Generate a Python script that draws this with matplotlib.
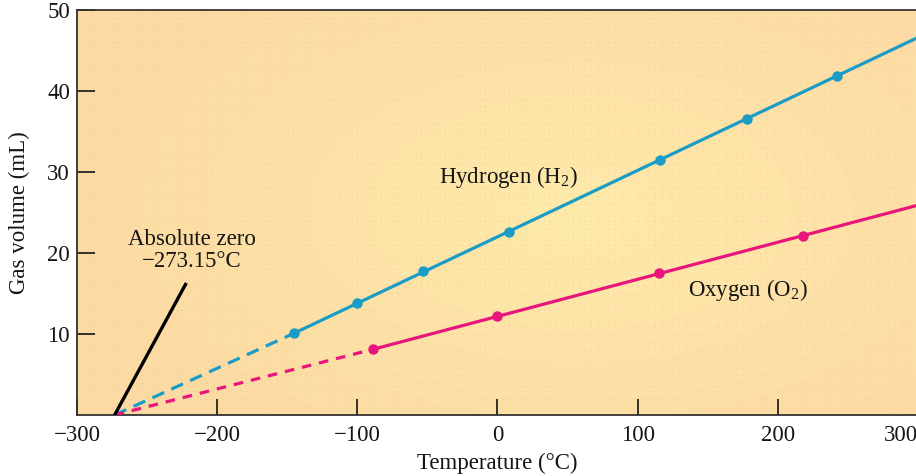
import numpy as np
import matplotlib
matplotlib.use("Agg")
import matplotlib.pyplot as plt
from matplotlib.colors import LinearSegmentedColormap

# ---- data ----
abs_zero = -273.15
h2_temp = [-145, -100, -53, 8, 116, 178, 242]
h2_vol = [10.1, 13.8, 17.8, 22.6, 31.5, 36.6, 41.9]
o2_temp = [-89, 0, 115, 218]
o2_vol = [8.1, 12.2, 17.5, 22.1]
h2_end_vol = 46.6   # solid line value at x = 300
o2_end_vol = 25.9
x_ticks = [-300, -200, -100, 0, 100, 200, 300]
x_tick_labels = ["\u2212300", "\u2212200", "\u2212100", "0", "100", "200", "300"]
y_ticks = [10, 20, 30, 40, 50]
pointer_start = (-273.15, 0)
pointer_end = (-222, 16.3)

plt.rcParams['font.family'] = ['Liberation Serif', 'DejaVu Serif']
plt.rcParams['mathtext.fontset'] = 'custom'
plt.rcParams['mathtext.rm'] = 'Liberation Serif'
plt.rcParams['mathtext.it'] = 'Liberation Serif:italic'
plt.rcParams['mathtext.bf'] = 'Liberation Serif:bold'

FS = 16.5
TXT = "#151515"

fig = plt.figure(figsize=(9.16, 4.76), dpi=100)
ax = fig.add_axes([77/916, 61/476, 1 - 77/916 + 0.002, 405/476])
ax.set_xlim(-300, 300)
ax.set_ylim(0, 50)

# background gradient
nx, ny = 200, 100
xx, yy = np.meshgrid(np.linspace(0, 1, nx), np.linspace(0, 1, ny))
val = np.clip(1 - np.sqrt(((xx - 0.6) / 0.65) ** 2 + ((yy - 0.5) / 0.75) ** 2), 0, 1)
cmap = LinearSegmentedColormap.from_list("bg", ["#FCDAA3", "#FDE2A7", "#FEEBAA"])
ax.imshow(val, extent=[-300, 300, 0, 50], origin="lower", aspect="auto",
          cmap=cmap, vmin=0, vmax=1, zorder=0, interpolation="bilinear")

# faint dotted grid
for gx in np.arange(-300, 301, 100 / 17.5):
    ax.axvline(gx, color="#F4B09A", lw=0.7, ls=(0, (1, 5)), alpha=0.5, zorder=0.5)
for gy in np.arange(0, 50.1, 1):
    ax.axhline(gy, color="#F4B09A", lw=0.7, ls=(0, (1, 5)), alpha=0.5, zorder=0.5)

blue = "#1A9CC6"
pink = "#E8157C"

# hydrogen
ax.plot([abs_zero, h2_temp[0]], [0, h2_vol[0]], color=blue, lw=2.3, ls=(0, (4, 2.5)), zorder=3)
ax.plot([h2_temp[0], 300], [h2_vol[0], h2_end_vol], color=blue, lw=2.3, zorder=3)
ax.plot(h2_temp, h2_vol, ls="none", marker="o", ms=6.5, color=blue, zorder=4)

# oxygen
ax.plot([abs_zero, o2_temp[0]], [0, o2_vol[0]], color=pink, lw=2.3, ls=(0, (3, 2.5)), zorder=3)
ax.plot([o2_temp[0], 300], [o2_vol[0], o2_end_vol], color=pink, lw=2.3, zorder=3)
ax.plot(o2_temp, o2_vol, ls="none", marker="o", ms=6.5, color=pink, zorder=4)

# absolute zero pointer
ax.plot([pointer_start[0], pointer_end[0]], [pointer_start[1], pointer_end[1]],
        color="black", lw=2.4, zorder=5, solid_capstyle="butt")
ax.text(-218, 20.3, "Absolute zero\n\u2212273.15\u00b0C", ha="center", va="center",
        fontsize=FS, linespacing=1.05, color=TXT)

ax.text(8, 29.4, r"Hydrogen (H$_\mathregular{2}$)", ha="center", va="center", fontsize=FS, color=TXT)
ax.text(179, 15.4, r"Oxygen (O$_\mathregular{2}$)", ha="center", va="center", fontsize=FS, color=TXT)

# axes styling
ax.set_xticks(x_ticks)
ax.set_xticklabels(x_tick_labels)
ax.set_yticks(y_ticks)
ax.tick_params(direction="in", width=1.2, labelsize=FS, colors=TXT)
ax.tick_params(axis="y", length=13, pad=5)
ax.tick_params(axis="x", length=11.5, pad=7)
last = ax.get_xticklabels()[-1]
last.set_horizontalalignment("right")
for s in ["left", "bottom", "top"]:
    ax.spines[s].set_color("#333333")
    ax.spines[s].set_linewidth(1.3)
ax.spines["right"].set_visible(False)
ax.set_xlabel("Temperature (\u00b0C)", fontsize=FS, color=TXT)
ax.set_ylabel("Gas volume (mL)", fontsize=FS, color=TXT)
ax.xaxis.set_label_coords(0.5, -0.093)
ax.yaxis.set_label_coords(-0.056, 0.5)

fig.savefig("out.png", dpi=100)
